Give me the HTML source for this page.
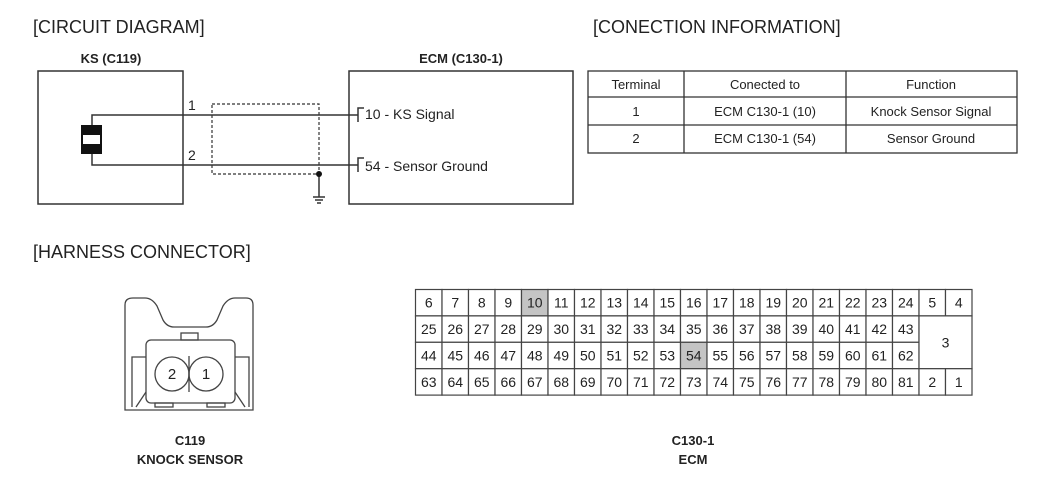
<!DOCTYPE html>
<html><head><style>
body{margin:0;background:#fff;}
svg text{font-family:"Liberation Sans",Arial,sans-serif;fill:#222;}
</style></head><body>
<svg width="1050" height="481" viewBox="0 0 1050 481" xmlns="http://www.w3.org/2000/svg">
<g font-size="18">
<text x="33" y="33">[CIRCUIT DIAGRAM]</text>
<text x="593" y="33">[CONECTION INFORMATION]</text>
<text x="33" y="258">[HARNESS CONNECTOR]</text>
</g>
<g font-size="13" font-weight="bold" text-anchor="middle">
<text x="111" y="63">KS (C119)</text>
<text x="461" y="63">ECM (C130-1)</text>
</g>
<g fill="none" stroke="#333" stroke-width="1.5">
<rect x="38" y="71" width="145" height="133"/>
<rect x="349" y="71" width="224" height="133"/>
<polyline points="92,125 92,115 358,115"/>
<polyline points="92,154 92,165 358,165"/>
<polyline points="364,108 358,108 358,122"/>
<polyline points="364,158 358,158 358,172"/>
<rect x="212" y="104" width="107" height="70" stroke-dasharray="3,2" stroke-width="1.2"/>
<line x1="319" y1="174" x2="319" y2="197"/>
<line x1="313" y1="197" x2="325" y2="197"/>
<line x1="315" y1="200" x2="323" y2="200"/>
<line x1="317" y1="203" x2="321" y2="203"/>
</g>
<circle cx="319" cy="174" r="3" fill="#111"/>
<rect x="81" y="125" width="21" height="29" fill="#111"/>
<rect x="83" y="135" width="17" height="9" fill="#fff"/>
<g font-size="14">
<text x="188" y="110">1</text>
<text x="188" y="160">2</text>
<text x="365" y="119">10 - KS Signal</text>
<text x="365" y="171">54 - Sensor Ground</text>
</g>
<g fill="none" stroke="#333" stroke-width="1.3">
<rect x="588" y="71" width="429" height="82"/>
<line x1="588" y1="97" x2="1017" y2="97"/>
<line x1="588" y1="125" x2="1017" y2="125"/>
<line x1="684" y1="71" x2="684" y2="153"/>
<line x1="846" y1="71" x2="846" y2="153"/>
</g>
<g font-size="13" text-anchor="middle">
<text x="636" y="89">Terminal</text>
<text x="765" y="89">Conected to</text>
<text x="931" y="89">Function</text>
<text x="636" y="116">1</text>
<text x="765" y="116">ECM C130-1 (10)</text>
<text x="931" y="116">Knock Sensor Signal</text>
<text x="636" y="143">2</text>
<text x="765" y="143">ECM C130-1 (54)</text>
<text x="931" y="143">Sensor Ground</text>
</g>
<g fill="none" stroke="#444" stroke-width="1.3">
<path d="M125,410 L125,305 Q125,298 133,298 L145,298 Q152,298 157,306 L163,320 Q167,327 174,327 L206,327 Q213,327 217,320 L223,306 Q228,298 235,298 L246,298 Q253,298 253,305 L253,410 Z"/>
<rect x="146" y="340" width="89" height="63" rx="5"/>
<rect x="181" y="333" width="17" height="7"/>
<polyline points="146,357 132,357 132,407"/>
<polyline points="235,357 249,357 249,407"/>
<line x1="146" y1="392" x2="136" y2="407"/>
<line x1="235" y1="392" x2="245" y2="407"/>
<rect x="155" y="403" width="18" height="4"/>
<rect x="207" y="403" width="18" height="4"/>
<line x1="189" y1="356" x2="189" y2="392"/>
<circle cx="172" cy="374" r="17"/>
<circle cx="206" cy="374" r="17"/>
</g>
<g font-size="15" text-anchor="middle"><text x="172" y="379">2</text><text x="206" y="379">1</text></g>
<g font-size="13" font-weight="bold" text-anchor="middle">
<text x="190" y="445">C119</text>
<text x="190" y="464">KNOCK SENSOR</text>
<text x="693" y="445">C130-1</text>
<text x="693" y="464">ECM</text>
</g>
<g id="grid"></g>
</svg>
<script>
(function(){
var g=document.getElementById('grid'),ns='http://www.w3.org/2000/svg';
var x0=415.5,y0=289.5,w=26.5,h=26.4;
function cell(c,r,cs,rs,t,hl){
 var R=document.createElementNS(ns,'rect');
 R.setAttribute('x',x0+c*w);R.setAttribute('y',y0+r*h);
 R.setAttribute('width',w*cs);R.setAttribute('height',h*rs);
 R.setAttribute('fill',hl?'#c4c4c4':'#fff');R.setAttribute('stroke','#444');R.setAttribute('stroke-width','1.2');
 g.appendChild(R);
 var T=document.createElementNS(ns,'text');
 T.setAttribute('x',x0+c*w+w*cs/2);T.setAttribute('y',y0+r*h+h*rs/2+5);
 T.setAttribute('text-anchor','middle');T.setAttribute('font-size','14');
 T.textContent=t;g.appendChild(T);
}
var rows=[[6,24],[25,43],[44,62],[63,81]];
for(var r=0;r<4;r++){for(var c=0;c<19;c++){var n=rows[r][0]+c;cell(c,r,1,1,n,n==10||n==54);}}
cell(19,0,1,1,5);cell(20,0,1,1,4);
cell(19,1,2,2,3);
cell(19,3,1,1,2);cell(20,3,1,1,1);
})();
</script>
</body></html>
